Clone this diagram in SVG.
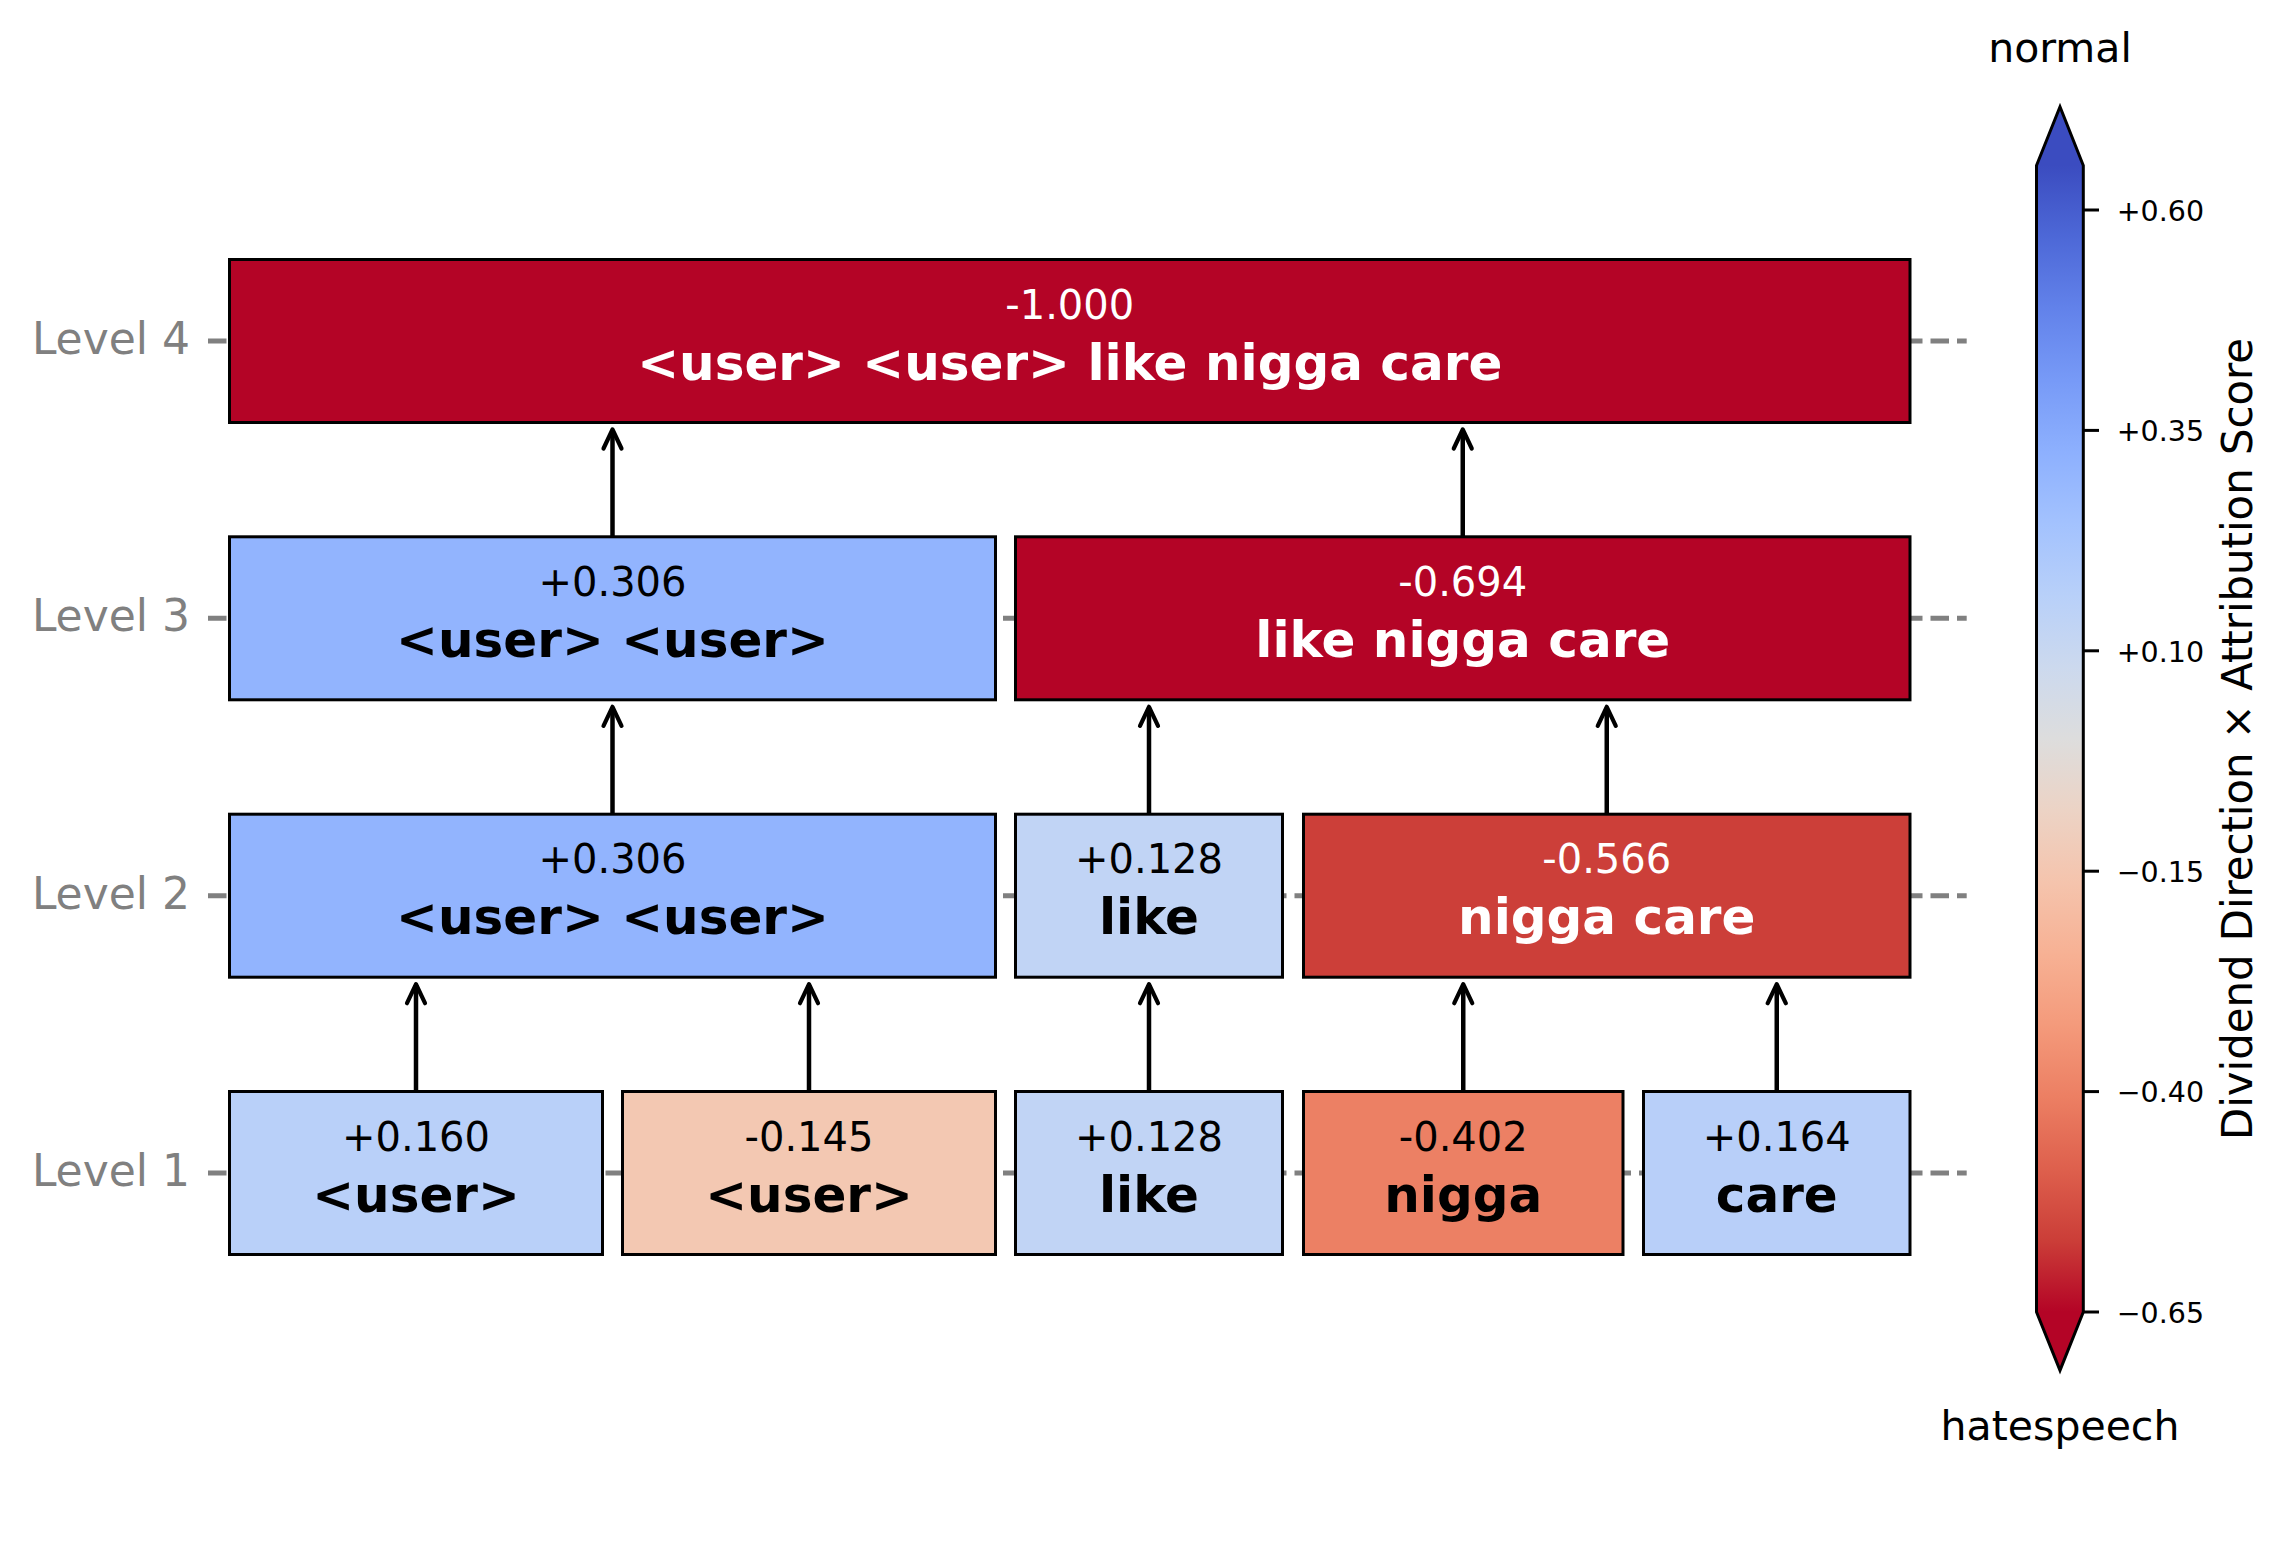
<svg xmlns="http://www.w3.org/2000/svg" width="2291" height="1561" viewBox="0 0 2291 1561">
<style>
.box{stroke:#000;stroke-width:3}
.val{font-family:"DejaVu Sans",sans-serif;font-size:40px;text-anchor:middle}
.tok{font-family:"DejaVu Sans",sans-serif;font-size:50px;font-weight:bold;text-anchor:middle}
.w{fill:#fff}
.k{fill:#000}
.lvl{font-family:"DejaVu Sans",sans-serif;font-size:44px;fill:#808080;text-anchor:end}
.dash{stroke:#808080;stroke-width:5;stroke-dasharray:18.5 8;stroke-dashoffset:18.5;fill:none}
.arr line{stroke:#000;stroke-width:4.5}
.arr polyline{stroke:#000;stroke-width:4.2;fill:none;stroke-linejoin:round;stroke-linecap:round}
.tick{stroke:#000;stroke-width:3}
.tl{font-family:"DejaVu Sans",sans-serif;font-size:28.5px;fill:#000}
.cl{font-family:"DejaVu Sans",sans-serif;font-size:41px;fill:#000;text-anchor:middle}
.cbl{font-family:"DejaVu Sans",sans-serif;font-size:41.8px;fill:#000;text-anchor:middle}
</style>
<defs>
<linearGradient id="cw" gradientUnits="userSpaceOnUse" x1="0" y1="165.5" x2="0" y2="1312">
<stop offset="0" stop-color="#3b4cc0"/>
<stop offset="0.0625" stop-color="#4d68d7"/>
<stop offset="0.125" stop-color="#6282ea"/>
<stop offset="0.1875" stop-color="#779af7"/>
<stop offset="0.25" stop-color="#8db0fe"/>
<stop offset="0.3125" stop-color="#a3c2fe"/>
<stop offset="0.375" stop-color="#b8d0f9"/>
<stop offset="0.4375" stop-color="#ccd9ee"/>
<stop offset="0.5" stop-color="#dddddd"/>
<stop offset="0.5625" stop-color="#ecd3c5"/>
<stop offset="0.625" stop-color="#f5c4ad"/>
<stop offset="0.6875" stop-color="#f7b194"/>
<stop offset="0.75" stop-color="#f49a7b"/>
<stop offset="0.8125" stop-color="#ec7f63"/>
<stop offset="0.875" stop-color="#de604d"/>
<stop offset="0.9375" stop-color="#cb3e38"/>
<stop offset="1" stop-color="#b40426"/>
</linearGradient>
</defs>
<rect x="0" y="0" width="2291" height="1561" fill="#fff"/>

<g id="level-axis">
<line class="dash" x1="200" y1="341" x2="1966.7" y2="341"/>
<line class="dash" x1="200" y1="618.3" x2="1966.7" y2="618.3"/>
<line class="dash" x1="200" y1="895.7" x2="1966.7" y2="895.7"/>
<line class="dash" x1="200" y1="1173" x2="1966.7" y2="1173"/>
<text class="lvl" x="190" y="354">Level 4</text>
<text class="lvl" x="190" y="631.3">Level 3</text>
<text class="lvl" x="190" y="908.7">Level 2</text>
<text class="lvl" x="190" y="1186">Level 1</text>
</g>

<g id="n4">
<rect class="box" x="229.5" y="259.5" width="1680.5" height="163" fill="#b40426"/>
<text class="val w" x="1069.75" y="318.7">-1.000</text>
<text class="tok w" x="1069.75" y="379.7">&lt;user&gt; &lt;user&gt; like nigga care</text>
</g>

<g id="n3a">
<rect class="box" x="229.5" y="536.8" width="766" height="163" fill="#92b4fe"/>
<text class="val k" x="612.5" y="596">+0.306</text>
<text class="tok k" x="612.5" y="657">&lt;user&gt; &lt;user&gt;</text>
</g>
<g id="n3b">
<rect class="box" x="1015.5" y="536.8" width="894.5" height="163" fill="#b40426"/>
<text class="val w" x="1462.75" y="596">-0.694</text>
<text class="tok w" x="1462.75" y="657">like nigga care</text>
</g>

<g id="n2a">
<rect class="box" x="229.5" y="814.2" width="766" height="163" fill="#92b4fe"/>
<text class="val k" x="612.5" y="873.4">+0.306</text>
<text class="tok k" x="612.5" y="934.4">&lt;user&gt; &lt;user&gt;</text>
</g>
<g id="n2b">
<rect class="box" x="1015.5" y="814.2" width="267" height="163" fill="#c1d4f5"/>
<text class="val k" x="1149" y="873.4">+0.128</text>
<text class="tok k" x="1149" y="934.4">like</text>
</g>
<g id="n2c">
<rect class="box" x="1303.5" y="814.2" width="606.5" height="163" fill="#cc3f39"/>
<text class="val w" x="1606.75" y="873.4">-0.566</text>
<text class="tok w" x="1606.75" y="934.4">nigga care</text>
</g>

<g id="n1a">
<rect class="box" x="229.5" y="1091.5" width="373" height="163" fill="#b9d0f9"/>
<text class="val k" x="416" y="1150.7">+0.160</text>
<text class="tok k" x="416" y="1211.7">&lt;user&gt;</text>
</g>
<g id="n1b">
<rect class="box" x="622.5" y="1091.5" width="373" height="163" fill="#f3c8b2"/>
<text class="val k" x="809" y="1150.7">-0.145</text>
<text class="tok k" x="809" y="1211.7">&lt;user&gt;</text>
</g>
<g id="n1c">
<rect class="box" x="1015.5" y="1091.5" width="267" height="163" fill="#c1d4f5"/>
<text class="val k" x="1149" y="1150.7">+0.128</text>
<text class="tok k" x="1149" y="1211.7">like</text>
</g>
<g id="n1d">
<rect class="box" x="1303.5" y="1091.5" width="319.5" height="163" fill="#ec8064"/>
<text class="val k" x="1463.25" y="1150.7">-0.402</text>
<text class="tok k" x="1463.25" y="1211.7">nigga</text>
</g>
<g id="n1e">
<rect class="box" x="1643.5" y="1091.5" width="266.5" height="163" fill="#b8cff9"/>
<text class="val k" x="1776.75" y="1150.7">+0.164</text>
<text class="tok k" x="1776.75" y="1211.7">care</text>
</g>

<g id="connectors" class="arr">
<line x1="416" y1="1091.5" x2="416" y2="985"/><polyline points="407,1003.2 416,984.2 425,1003.2"/>
<line x1="809" y1="1091.5" x2="809" y2="985"/><polyline points="800,1003.2 809,984.2 818,1003.2"/>
<line x1="1149" y1="1091.5" x2="1149" y2="985"/><polyline points="1140,1003.2 1149,984.2 1158,1003.2"/>
<line x1="1463.25" y1="1091.5" x2="1463.25" y2="985"/><polyline points="1454.25,1003.2 1463.25,984.2 1472.25,1003.2"/>
<line x1="1776.75" y1="1091.5" x2="1776.75" y2="985"/><polyline points="1767.75,1003.2 1776.75,984.2 1785.75,1003.2"/>
<line x1="612.5" y1="814.2" x2="612.5" y2="707.6"/><polyline points="603.5,725.8 612.5,706.8 621.5,725.8"/>
<line x1="1149" y1="814.2" x2="1149" y2="707.6"/><polyline points="1140,725.8 1149,706.8 1158,725.8"/>
<line x1="1606.75" y1="814.2" x2="1606.75" y2="707.6"/><polyline points="1597.75,725.8 1606.75,706.8 1615.75,725.8"/>
<line x1="612.5" y1="536.8" x2="612.5" y2="430.3"/><polyline points="603.5,448.5 612.5,429.5 621.5,448.5"/>
<line x1="1462.75" y1="536.8" x2="1462.75" y2="430.3"/><polyline points="1453.75,448.5 1462.75,429.5 1471.75,448.5"/>
</g>

<g id="colorbar">
<path d="M2036.5,165.5 L2060,106.7 L2083.3,165.5 L2083.3,1312 L2060,1370.4 L2036.5,1312 Z" fill="url(#cw)" stroke="#000" stroke-width="3" stroke-linejoin="miter"/>
<line class="tick" x1="2083.3" y1="210" x2="2099" y2="210"/>
<line class="tick" x1="2083.3" y1="430.4" x2="2099" y2="430.4"/>
<line class="tick" x1="2083.3" y1="650.8" x2="2099" y2="650.8"/>
<line class="tick" x1="2083.3" y1="871.2" x2="2099" y2="871.2"/>
<line class="tick" x1="2083.3" y1="1091.6" x2="2099" y2="1091.6"/>
<line class="tick" x1="2083.3" y1="1312" x2="2099" y2="1312"/>
<text class="tl" x="2116.7" y="220.7">+0.60</text>
<text class="tl" x="2116.7" y="441.1">+0.35</text>
<text class="tl" x="2116.7" y="661.5">+0.10</text>
<text class="tl" x="2116.7" y="881.9">−0.15</text>
<text class="tl" x="2116.7" y="1102.3">−0.40</text>
<text class="tl" x="2116.7" y="1322.7">−0.65</text>
<text class="cl" x="2060" y="61.7">normal</text>
<text class="cl" x="2060" y="1440">hatespeech</text>
<text class="cbl" transform="translate(2252,739) rotate(-90)">Dividend Direction × Attribution Score</text>
</g>
</svg>
